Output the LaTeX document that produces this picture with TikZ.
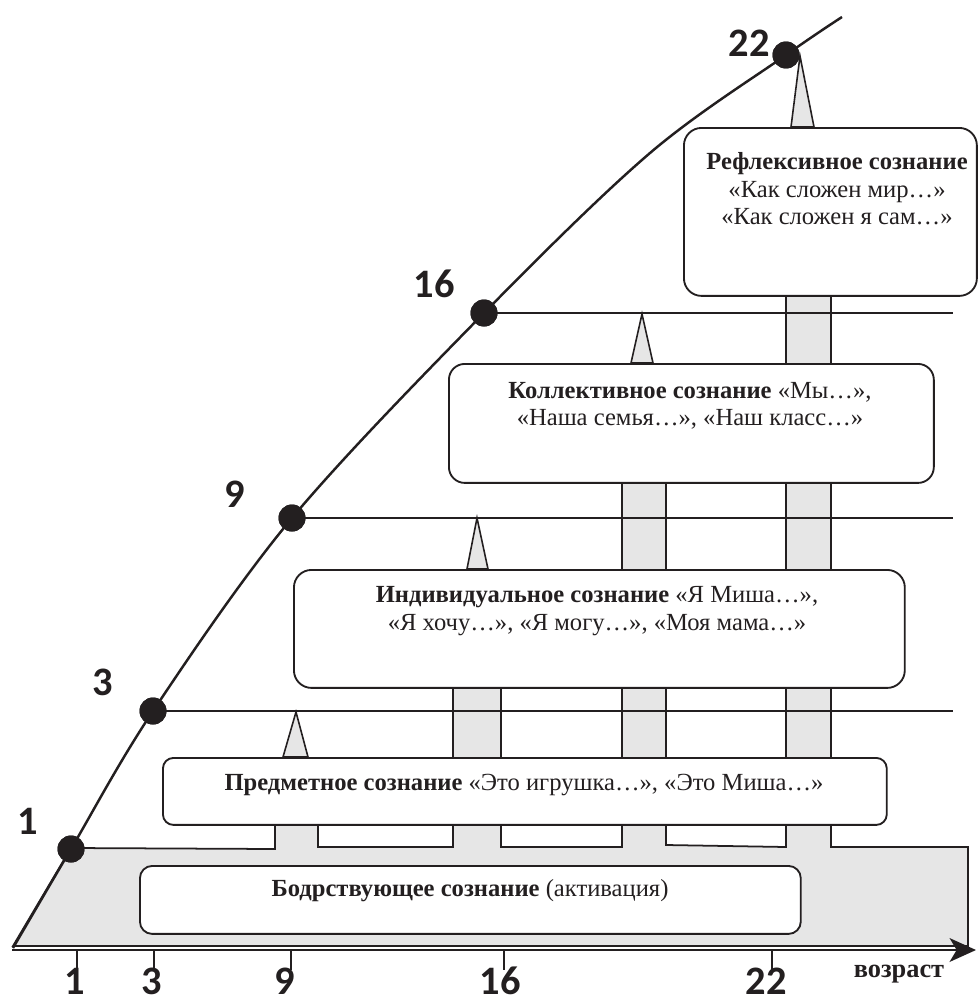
\documentclass[tikz,border=0pt]{standalone}
\usepackage{fontspec}
\setmainfont{Liberation Serif}
\newfontfamily\digitfont{Carlito}
\usetikzlibrary{arrows.meta}
\definecolor{pgrey}{RGB}{230,230,230}
\definecolor{ink}{RGB}{35,31,32}
\begin{document}
\begin{tikzpicture}[x=0.02cm,y=-0.02cm,
  box/.style={draw=ink, line width=1.05pt, fill=white, inner sep=0pt, anchor=north west},
  txt/.style={text=ink, align=center, inner sep=0pt, font=\fontsize{14}{15.6}\selectfont},
  tri/.style={draw=ink, line width=0.9pt, fill=pgrey, line join=miter},
  pillar/.style={draw=ink, line width=1pt, fill=pgrey},
  hline/.style={draw=ink, line width=1.3pt},
  curve/.style={draw=ink, line width=1.4pt},
  dot/.style={circle, fill=ink, inner sep=0pt, minimum size=0.54cm},
  num/.style={text=ink, inner sep=0pt, font=\digitfont\bfseries\fontsize{23}{23}\selectfont},
  tick/.style={draw=ink, line width=0.9pt},
  axis/.style={draw=ink, line width=1.4pt, -{Stealth[length=15pt,width=13.5pt,inset=4pt]}}]
\path[fill=white, use as bounding box] (0,0) rectangle (979,1001);

% grey base with pillars
\draw[pillar] (13,946) -- (71,848) -- (275,849) -- (275,824) -- (318,824) -- (318,847)
  -- (453,847) -- (453,687) -- (501,687) -- (501,847) -- (622,847) -- (622,482)
  -- (666,482) -- (666,845) -- (786,847) -- (786,295) -- (831,295) -- (831,847)
  -- (968,847) -- (968,946) -- cycle;

% dots on the curve
\node[dot] (d1) at (71,849) {};
\node[dot] (d3) at (153,711) {};
\node[dot] (d9) at (292,518) {};
\node[dot] (d16) at (484,313) {};
\node[dot] (d22) at (786,55) {};

% horizontal levels
\coordinate (e3) at (953,711);
\coordinate (e9) at (953,518);
\coordinate (e16) at (953,313);
\draw[hline] (d3.center) -- (e3);
\draw[hline] (d9.center) -- (e9);
\draw[hline] (d16.center) -- (e16);

% pointers
\draw[tri] (283,757) -- (296,712) -- (308,757) -- cycle;
\draw[tri] (467,569) -- (477,518) -- (488,569) -- cycle;
\draw[tri] (631,363) -- (642,314) -- (653,363) -- cycle;
\draw[tri] (791,127) -- (800,56) -- (814,127) -- cycle;

% boxes
\node[box, rounded corners=10pt, minimum width=5.86cm, minimum height=3.36cm] (refl) at (683,127) {};
\node[box, rounded corners=9pt, minimum width=9.70cm, minimum height=2.38cm] (coll) at (448,363) {};
\node[box, rounded corners=10pt, minimum width=12.22cm, minimum height=2.36cm] (ind) at (293,569) {};
\node[box, rounded corners=6pt, minimum width=14.48cm, minimum height=1.34cm] (pred) at (162,757) {};
\node[box, rounded corners=7pt, minimum width=13.22cm, minimum height=1.36cm] (bodr) at (139,865) {};

\node[txt] (refl-t) at (837,189) {\textbf{Рефлексивное сознание}\\«Как сложен мир…»\\«Как сложен я сам…»};
\node[txt] (coll-t) at (690,406) {\textbf{Коллективное сознание} «Мы…»,\\«Наша семья…», «Наш класс…»};
\node[txt] (ind-t) at (597,611) {\textbf{Индивидуальное сознание} «Я Миша…»,\\«Я хочу…», «Я могу…», «Моя мама…»};
\node[txt] (pred-t) at (524,785) {\textbf{Предметное сознание} «Это игрушка…», «Это Миша…»};
\node[txt] (bodr-t) at (470,891) {\textbf{Бодрствующее сознание} (активация)};

% the curve
\draw[curve] plot[smooth, tension=0.55] coordinates {(13,948) (71,849) (153,711) (292,518) (484,313) (650,153) (786,55) (842,17)};
\node[dot] at (d1) {};
\node[dot] at (d3) {};
\node[dot] at (d9) {};
\node[dot] at (d16) {};
\node[dot] at (d22) {};

% labels at dots
\node[num] (l1) at (28,821) {1};
\node[num] (l3) at (103,682) {3};
\node[num] (l9) at (235,494) {9};
\node[num] (l16) at (434,284) {16};
\node[num] (l22) at (749,43) {22};

% axis
\coordinate (a0) at (12,950);
\coordinate (a1) at (976,950);
\draw[axis] (a0) -- (a1);
\foreach \x/\n in {77/1,154/3,291/9,504/16,772/22}{
  \coordinate (t\n) at (\x,950);
  \coordinate (tb\n) at (\x,970);
  \draw[tick] (t\n) -- (tb\n);
}
\node[num] (x1) at (75,981) {1};
\node[num] (x3) at (152,981) {3};
\node[num] (x9) at (285,981) {9};
\node[num] (x16) at (500,981) {16};
\node[num] (x22) at (766,981) {22};
\node[text=ink, inner sep=0pt, font=\bfseries\fontsize{15}{15}\selectfont] (age) at (899,974) {возраст};
\end{tikzpicture}
\end{document}
